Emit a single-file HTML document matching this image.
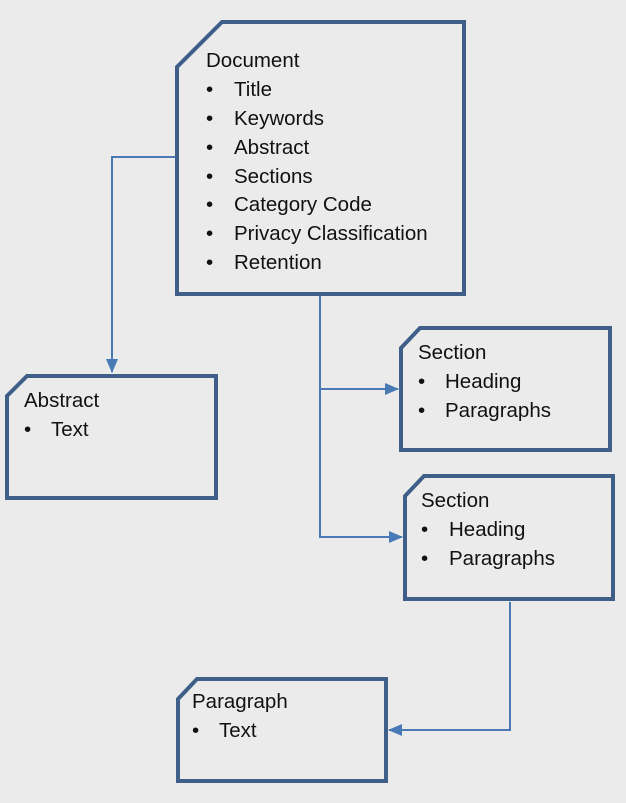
<!DOCTYPE html>
<html><head><style>
body{margin:0;background:#ebebeb;}
svg text{font-family:"Liberation Sans",sans-serif;font-size:20.5px;fill:#111;}
</style></head><body>
<svg width="626" height="798" viewBox="0 0 626 798">
<rect width="626" height="798" fill="#ebebeb"/>
<defs><marker id="a" markerWidth="14" markerHeight="14" refX="13" refY="6" orient="auto" markerUnits="userSpaceOnUse"><path d="M0,0 L14,6 L0,12 z" fill="#4a7ab5"/></marker></defs>
<g fill="none" stroke="#4a7ab5" stroke-width="2">
<path d="M176,157 H112 V372" marker-end="url(#a)"/>
<path d="M320,296 V537 H402" marker-end="url(#a)"/>
<path d="M320,389 H398" marker-end="url(#a)"/>
<path d="M510,602 V730 H389" marker-end="url(#a)"/>
</g>
<g fill="#ebebeb" stroke="#3f5f88" stroke-width="4" stroke-linejoin="miter">
<path d="M222,22 H464 V294 H177 V67 Z"/>
<path d="M27,376 H216 V498 H7 V396 Z"/>
<path d="M420,328 H610 V450 H401 V348 Z"/>
<path d="M424,476 H613 V599 H405 V496 Z"/>
<path d="M197,679 H386 V781 H178 V699 Z"/>
</g>
<text x="206" y="67">Document</text>
<g>
<text x="206" y="96">•</text><text x="234" y="96">Title</text>
<text x="206" y="125">•</text><text x="234" y="125">Keywords</text>
<text x="206" y="154">•</text><text x="234" y="154">Abstract</text>
<text x="206" y="183">•</text><text x="234" y="183">Sections</text>
<text x="206" y="211">•</text><text x="234" y="211">Category Code</text>
<text x="206" y="240">•</text><text x="234" y="240">Privacy Classification</text>
<text x="206" y="269">•</text><text x="234" y="269">Retention</text>
</g>
<text x="24" y="407">Abstract</text>
<text x="24" y="436">•</text><text x="51" y="436">Text</text>
<text x="418" y="359">Section</text>
<text x="418" y="388">•</text><text x="445" y="388">Heading</text>
<text x="418" y="417">•</text><text x="445" y="417">Paragraphs</text>
<text x="421" y="507">Section</text>
<text x="421" y="536">•</text><text x="449" y="536">Heading</text>
<text x="421" y="565">•</text><text x="449" y="565">Paragraphs</text>
<text x="192" y="708">Paragraph</text>
<text x="192" y="737">•</text><text x="219" y="737">Text</text>
</svg>
</body></html>
